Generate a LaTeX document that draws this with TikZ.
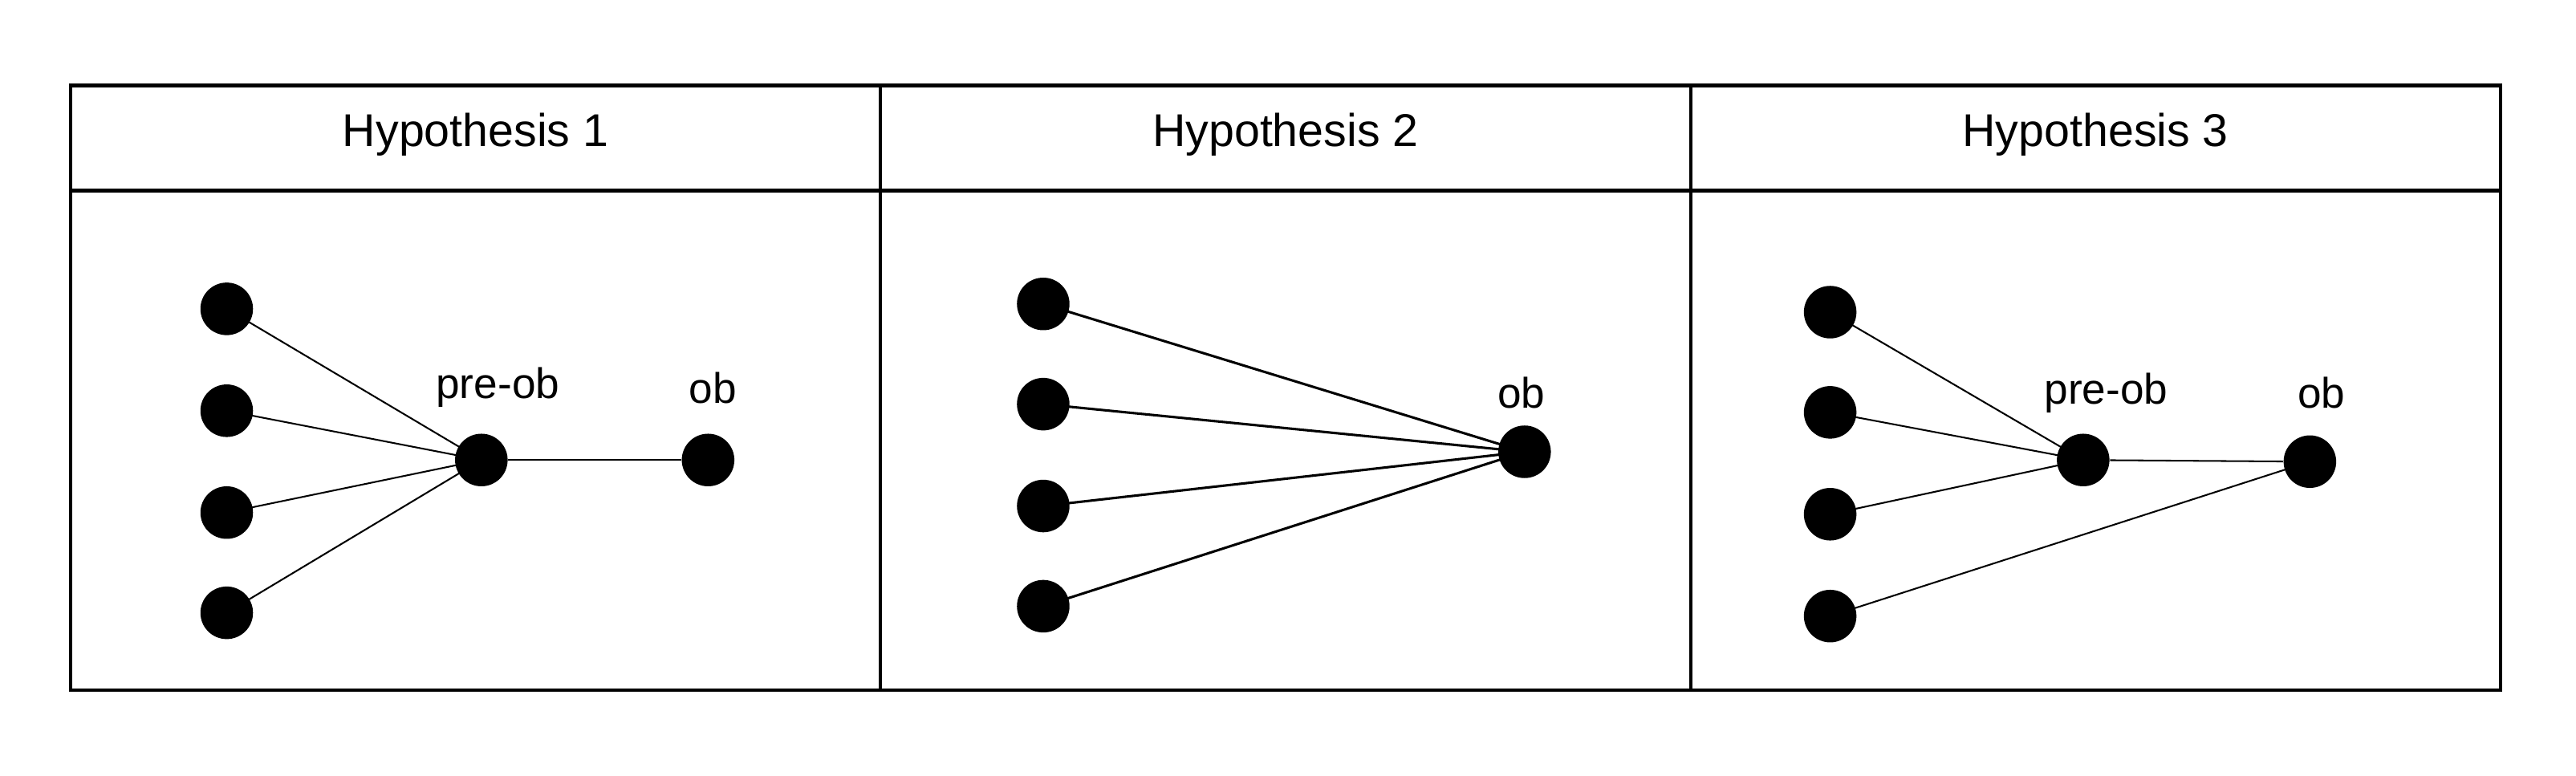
\documentclass[tikz,border=0pt]{standalone}
\usepackage{fontspec}
\setmainfont{Liberation Sans}
\begin{document}
\begin{tikzpicture}[x=0.5pt,y=-0.5pt,
  dot/.style={circle,fill=black,inner sep=0pt,minimum size=16pt},
  lbl/.style={font=\fontsize{13}{15}\selectfont},
  hd/.style={font=\fontsize{14}{16}\selectfont},
  thin/.style={line width=0.5pt},
  med/.style={line width=0.75pt}]
\useasboundingbox (0,0) rectangle (1568,472);
\draw[line width=1pt] (43,52) rectangle (1522,420);
\draw[line width=1pt] (43,116) -- (1522,116) (536,52) -- (536,420) (1029,52) -- (1029,420);
\node[hd] (h1) at (289.5,82) {Hypothesis 1};
\node[hd] (h2) at (782.5,82) {Hypothesis 2};
\node[hd] (h3) at (1275.5,82) {Hypothesis 3};
% panel 1
\foreach \i/\y in {1/188,2/250,3/312,4/373} \node[dot] (a\i) at (138,\y) {};
\node[dot] (ap) at (293,280) {};
\node[dot] (ao) at (431,280) {};
\node[lbl] (apl) at (303,236) {pre-ob};
\node[lbl] (aol) at (434,236) {ob};
\foreach \i in {1,...,4} \draw[thin] (a\i.center) -- (ap.center);
\draw[thin] (ap) -- (ao);
% panel 2
\foreach \i/\y in {1/185,2/246,3/308,4/369} \node[dot] (b\i) at (635,\y) {};
\node[dot] (bo) at (928,275) {};
\node[lbl] (bol) at (926,239) {ob};
\foreach \i in {1,...,4} \draw[med] (b\i.center) -- (bo.center);
% panel 3
\foreach \i/\y in {1/190,2/251,3/313,4/375} \node[dot] (c\i) at (1114,\y) {};
\node[dot] (cp) at (1268,280) {};
\node[dot] (co) at (1406,281) {};
\node[lbl] (cpl) at (1282,239) {pre-ob};
\node[lbl] (col) at (1413,239) {ob};
\foreach \i in {1,2,3} \draw[thin] (c\i.center) -- (cp.center);
\draw[thin] (cp) -- (co);
\draw[thin] (c4.center) -- (co.center);
\end{tikzpicture}
\end{document}
